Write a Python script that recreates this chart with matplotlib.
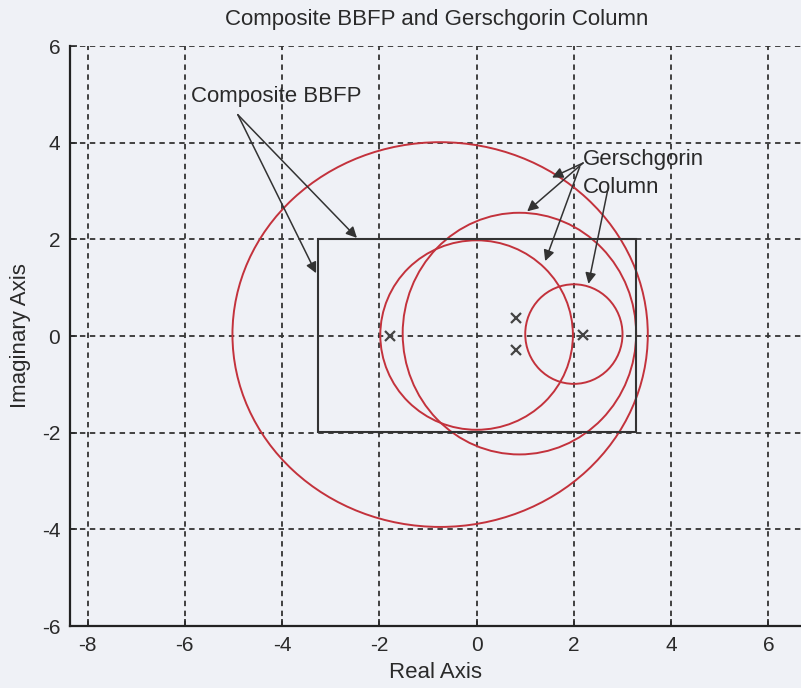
import matplotlib
matplotlib.use("Agg")
import matplotlib.pyplot as plt
from matplotlib.patches import Ellipse, Rectangle

# ---- data ----
circle_cx = [-0.75, 0.0, 0.88, 2.0]
circle_cy = [0.03, 0.02, 0.05, 0.04]
circle_rx = [4.27, 1.98, 2.40, 1.00]
circle_ry = [3.98, 1.96, 2.50, 1.03]

rect_x = [-3.27, 3.28]
rect_y = [-1.98, 2.00]

pole_x = [-1.78, 0.80, 0.80, 2.18]
pole_y = [0.00, 0.37, -0.28, 0.02]

xticks = [-8, -6, -4, -2, 0, 2, 4, 6]
yticks = [-6, -4, -2, 0, 2, 4, 6]

title = "Composite BBFP and Gerschgorin Column"
xlabel = "Real Axis"
ylabel = "Imaginary Axis"

bbfp_text = "Composite BBFP"
bbfp_text_xy = (-4.11, 4.95)
bbfp_src = (-4.91, 4.58)
bbfp_tips = [(-3.30, 1.30), (-2.46, 2.03)]

gersch_text = "Gerschgorin\nColumn"
gersch_text_xy = (2.18, 3.87)
gersch_src = [(2.19, 3.58), (2.19, 3.58), (2.12, 3.50), (2.70, 3.04)]
gersch_tips = [(1.55, 3.28), (1.04, 2.58), (1.41, 1.55), (2.30, 1.08)]

# ---- style ----
plt.rcParams["font.family"] = ["Liberation Sans", "DejaVu Sans"]
plt.rcParams["axes.unicode_minus"] = False

bg = "#eff1f6"
red = "#c3323c"
dark = "#333333"
txt = "#2a2a2a"

fig = plt.figure(figsize=(8.01, 6.88), dpi=100, facecolor=bg)
ax = fig.add_axes([0.0874, 0.0901, 0.9126, 0.8430], facecolor=bg)
ax.set_xlim(-8.36, 6.67)
ax.set_ylim(-6, 6)

for cx, cy, rx, ry in zip(circle_cx, circle_cy, circle_rx, circle_ry):
    ax.add_patch(Ellipse((cx, cy), 2 * rx, 2 * ry, fill=False, edgecolor=red, lw=1.4, zorder=3))

ax.add_patch(Rectangle((rect_x[0], rect_y[0]), rect_x[1] - rect_x[0], rect_y[1] - rect_y[0],
                       fill=False, edgecolor=dark, lw=1.5, zorder=3))

ax.plot(pole_x, pole_y, linestyle="none", marker="x", color="#444444", ms=7, mew=1.6, zorder=4)

ax.set_xticks(xticks)
ax.set_yticks(yticks)
ax.grid(True, color="#333333", linestyle=(0, (3, 2.5)), lw=1.3)
ax.set_axisbelow(True)
for s in ["top", "right"]:
    ax.spines[s].set_visible(False)
for s in ["left", "bottom"]:
    ax.spines[s].set_color("#222222")
    ax.spines[s].set_linewidth(1.6)
ax.tick_params(direction="in", length=5, width=1.2, colors=txt, labelsize=15, pad=7)

fig.text(0.5455, 1 - 19 / 688, title, fontsize=16, color=txt, ha="center", va="center")
ax.set_xlabel(xlabel, fontsize=16, color=txt, labelpad=5)
ax.set_ylabel(ylabel, fontsize=16, color=txt, labelpad=8)

ap = dict(arrowstyle="-|>", color=dark, lw=1.1, mutation_scale=16, shrinkA=0, shrinkB=0)
ax.text(bbfp_text_xy[0], bbfp_text_xy[1], bbfp_text, fontsize=16, color=txt,
        ha="center", va="center", zorder=5)
for tip in bbfp_tips:
    ax.annotate("", xy=tip, xytext=bbfp_src, arrowprops=ap, zorder=5)

ax.text(gersch_text_xy[0], gersch_text_xy[1], gersch_text, fontsize=16, color=txt,
        ha="left", va="top", linespacing=1.45, zorder=5)
for src, tip in zip(gersch_src, gersch_tips):
    ax.annotate("", xy=tip, xytext=src, arrowprops=ap, zorder=5)

fig.savefig("out.png", dpi=100, facecolor=bg)
